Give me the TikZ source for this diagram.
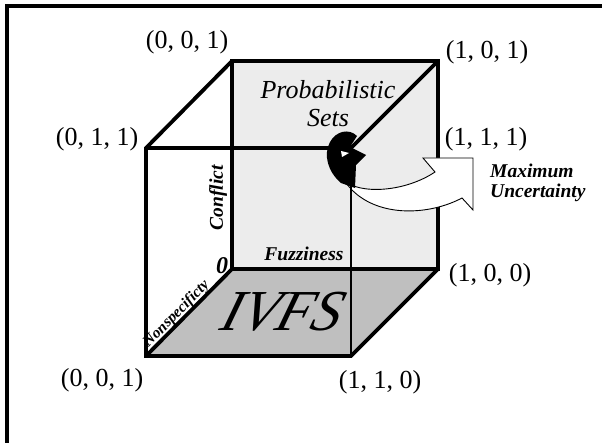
\documentclass[tikz,border=0pt]{standalone}
\usepackage{fontspec}
\setmainfont{Liberation Serif}
\usepackage{xcolor}
\usetikzlibrary{positioning}

\definecolor{caraFondo}{gray}{0.925}
\definecolor{caraSuelo}{gray}{0.75}

\begin{document}
\begin{tikzpicture}[
            x=1pt, y=-1pt,                      % Coordenadas en puntos, eje y hacia abajo
            marco/.style={
                draw=black,
                line width=3.5pt
            },
            arista/.style={
                draw=black,
                line width=3.8pt,
                line join=miter
            },
            aristafina/.style={
                draw=black,
                line width=2.4pt
            },
            vertice/.style={
                font=\fontsize{26}{28}\selectfont,
                inner sep=0pt
            },
            eje/.style={
                font=\fontsize{19.5}{21}\selectfont\bfseries\itshape,
                inner sep=1pt
            },
            cinta/.style={
                draw=black,
                fill=white,
                line width=0.9pt,
                line join=miter
            }
        ]
            \useasboundingbox (0,0) rectangle (602,443);

            % --- MARCO ---
            \draw [marco] (7,443) -- (7,6) -- (602,6);

            % --- VÉRTICES ---
            \coordinate (btl) at (232,61);
            \coordinate (btr) at (438,61);
            \coordinate (bbl) at (232,269);
            \coordinate (bbr) at (438,269);
            \coordinate (ftl) at (146,148);
            \coordinate (ftr) at (351,148);
            \coordinate (fbl) at (146,356);
            \coordinate (fbr) at (351,356);

            % --- CARAS ---
            \fill [caraFondo] (btl) rectangle (bbr);
            \fill [caraSuelo] (bbl) -- (bbr) -- (fbr) -- (fbl) -- cycle;

            % --- TEXTOS INTERIORES ---
            \node [font=\fontsize{58}{58}\selectfont\itshape, xslant=0.3, inner sep=0pt] (ivfs) at (284,312) {IVFS};
            \node [font=\fontsize{26}{28}\selectfont\itshape, align=center, inner sep=0pt] (prob) at (328,104) {Probabilistic\\Sets};

            % --- ARISTAS ---
            \draw [arista] (btl) -- (btr) -- (bbr) -- (bbl) -- cycle;
            \draw [arista] (btl) -- (ftl) -- (fbl) -- (fbr) -- (bbr);
            \draw [arista] (bbl) -- (fbl);
            \draw [arista] (ftl) -- (ftr);
            \draw [arista] (btr) -- (ftr);

            % --- FLECHA CURVA ---
            \path [cinta] (343,180) .. controls (360,195) and (405,192) .. (435,172)
                -- (423,158) -- (473,158) -- (473,210) -- (462,198)
                .. controls (430,215) and (380,218) .. (352,190) -- cycle;
            \fill [black] (341,183) .. controls (328,172) and (323,155) .. (330,142)
                .. controls (336,131) and (349,128) .. (357,136)
                -- (350,147) -- (366,155) -- (356,165) -- (355,188) -- cycle;
            \fill [white] (341,151) -- (349,153) -- (342,157) -- cycle;
            \draw [aristafina] (ftr) -- (fbr);

            % --- ETIQUETAS DE EJES ---
            \node [eje, rotate=90] (conflict) at (218,198) {Conflict};
            \node [eje] (fuzz) at (304,254) {Fuzziness};
            \node [eje, font=\fontsize{24}{24}\selectfont\bfseries\itshape] (cero) at (222,266) {0};
            \path (fbl) -- node [sloped, above, pos=0.42, inner sep=0.5pt, font=\fontsize{15.5}{16}\selectfont\bfseries\itshape] (nonspec) {Nonspecificty} (bbl);
            \node [eje, font=\fontsize{19.5}{20}\selectfont\bfseries\itshape, align=left, anchor=west] (maxunc) at (489,183) {Maximum\\Uncertainty};

            % --- ETIQUETAS DE VÉRTICES ---
            \node [vertice] (l001a) at (187,42) {(0, 0, 1)};
            \node [vertice] (l101) at (487,52) {(1, 0, 1)};
            \node [vertice] (l011) at (97,139) {(0, 1, 1)};
            \node [vertice] (l111) at (486,139) {(1, 1, 1)};
            \node [vertice] (l100) at (490,275) {(1, 0, 0)};
            \node [vertice] (l001b) at (102,380) {(0, 0, 1)};
            \node [vertice] (l110) at (380,382) {(1, 1, 0)};
        \end{tikzpicture}
\end{document}
